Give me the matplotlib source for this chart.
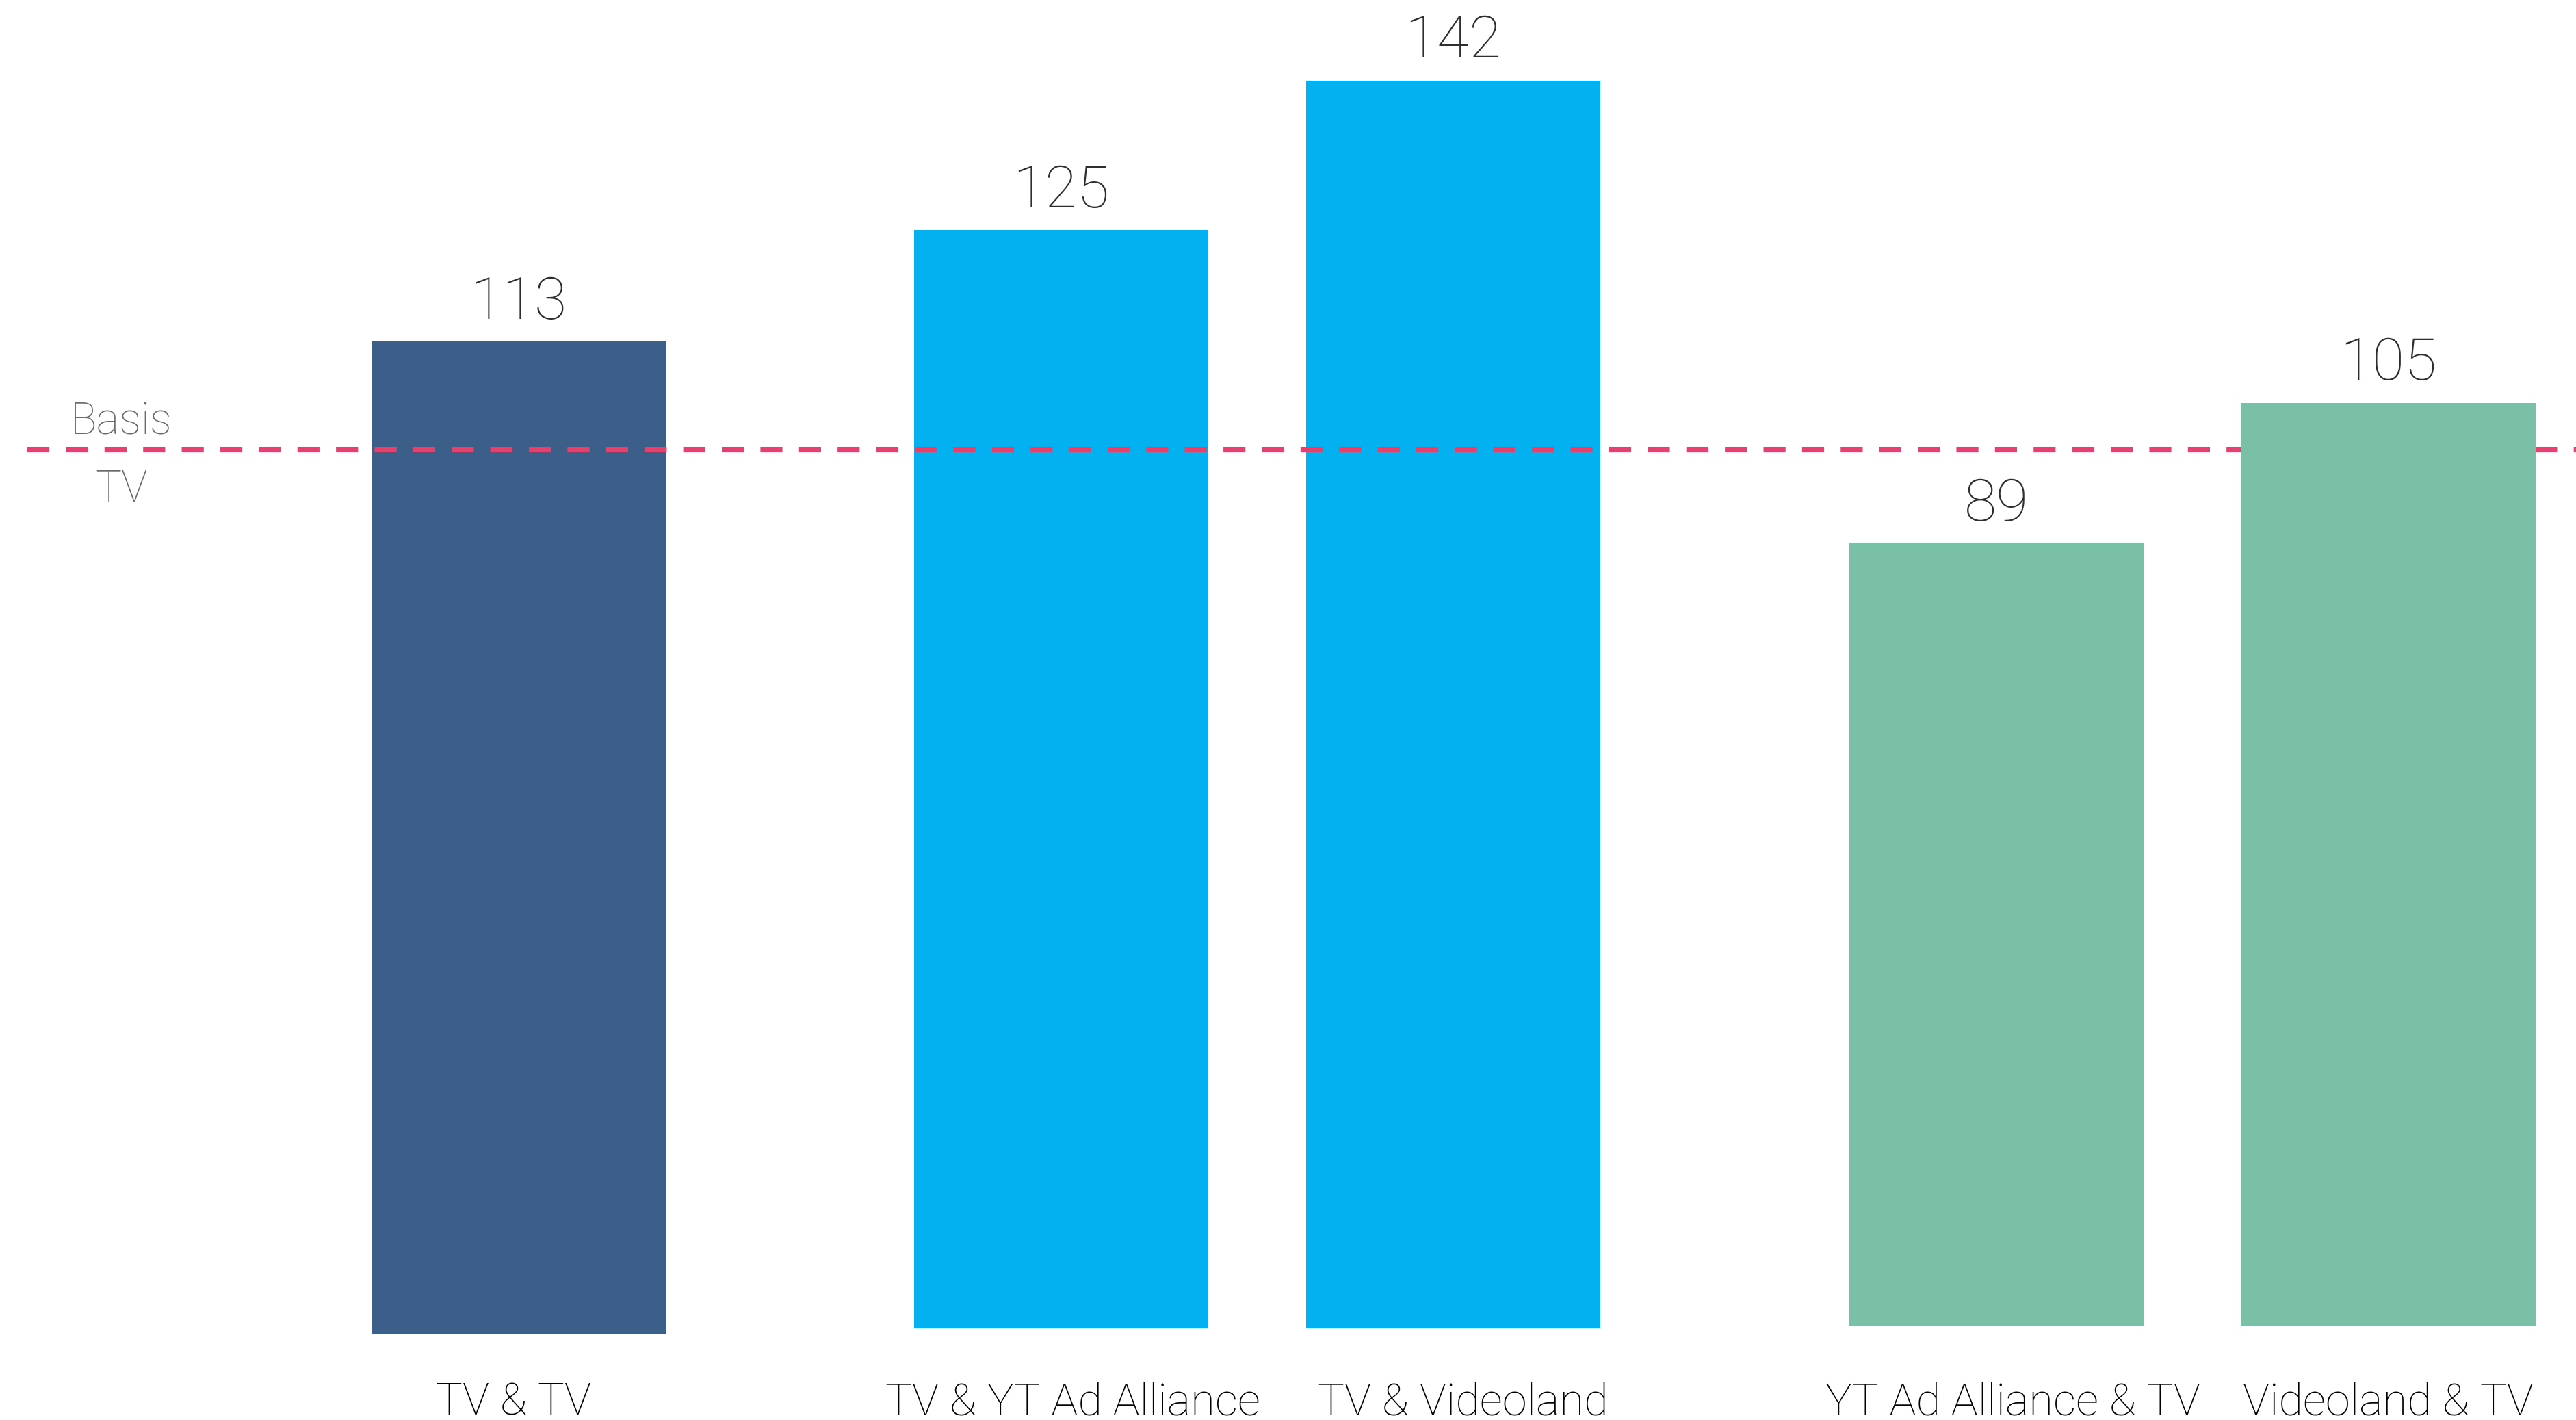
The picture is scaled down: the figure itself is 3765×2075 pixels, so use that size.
import matplotlib.pyplot as plt
from matplotlib import transforms

# data
categories = ["TV & TV", "TV & YT Ad Alliance", "TV & Videoland",
              "YT Ad Alliance & TV", "Videoland & TV"]
values = [113, 125, 142, 89, 105]
groups = [0, 1, 1, 2, 2]
basis_value = 100
basis_lines = ["Basis", "TV"]

# layout / style
positions = [0, 1.385, 2.385, 3.77, 4.77]
label_shift = [-7, 17, 14, 24, 0]          # px, label centre vs bar centre
group_base_px = [1950, 1941, 1937]         # each block sits on its own baseline
colors = ["#3C5F8A", "#03B0F0", "#03B0F0", "#79C0A6", "#79C0A6"]
W, H = 3765, 2075
px_per_unit = 12.84
unit_px = 573
ymax = 150

plt.rcParams['font.family'] = ['Roboto', 'DejaVu Sans']

fig = plt.figure(figsize=(W / 100, H / 100), dpi=100)

axes = []
for base in group_base_px:
    ax = fig.add_axes([0, (H - base) / H, 1, ymax * px_per_unit / H])
    ax.set_xlim(-757.5 / unit_px, (W - 757.5) / unit_px)
    ax.set_ylim(0, ymax)
    ax.axis('off')
    ax.patch.set_alpha(0)
    axes.append(ax)

for x, v, g, c in zip(positions, values, groups, colors):
    ax = axes[g]
    ax.bar(x, v, width=430 / unit_px, color=c)
    ax.annotate(str(v), (x, v), xytext=(0, 24), textcoords='offset points',
                ha='center', va='baseline', fontsize=62, fontweight='light',
                color='#2e2e2e')

trans = transforms.blended_transform_factory(axes[1].transData, fig.transFigure)
for x, c, s in zip(positions, categories, label_shift):
    axes[1].text(x + s / unit_px, 8 / H, c, transform=trans,
                 ha='center', va='baseline', fontsize=47, fontweight='light',
                 color='#000000')

# basis line
axes[1].axhline(basis_value, xmin=40 / W, xmax=1, color='#DB4570', lw=5.8,
                dashes=(4, 3))
fig.text(177 / W, 1 - 634 / H, basis_lines[0], ha='center', va='baseline',
         fontsize=46, fontweight='light', color='#6a6a6a')
fig.text(177 / W, 1 - 733 / H, basis_lines[1], ha='center', va='baseline',
         fontsize=46, fontweight='light', color='#6a6a6a')

fig.savefig("out.png", dpi=100)
